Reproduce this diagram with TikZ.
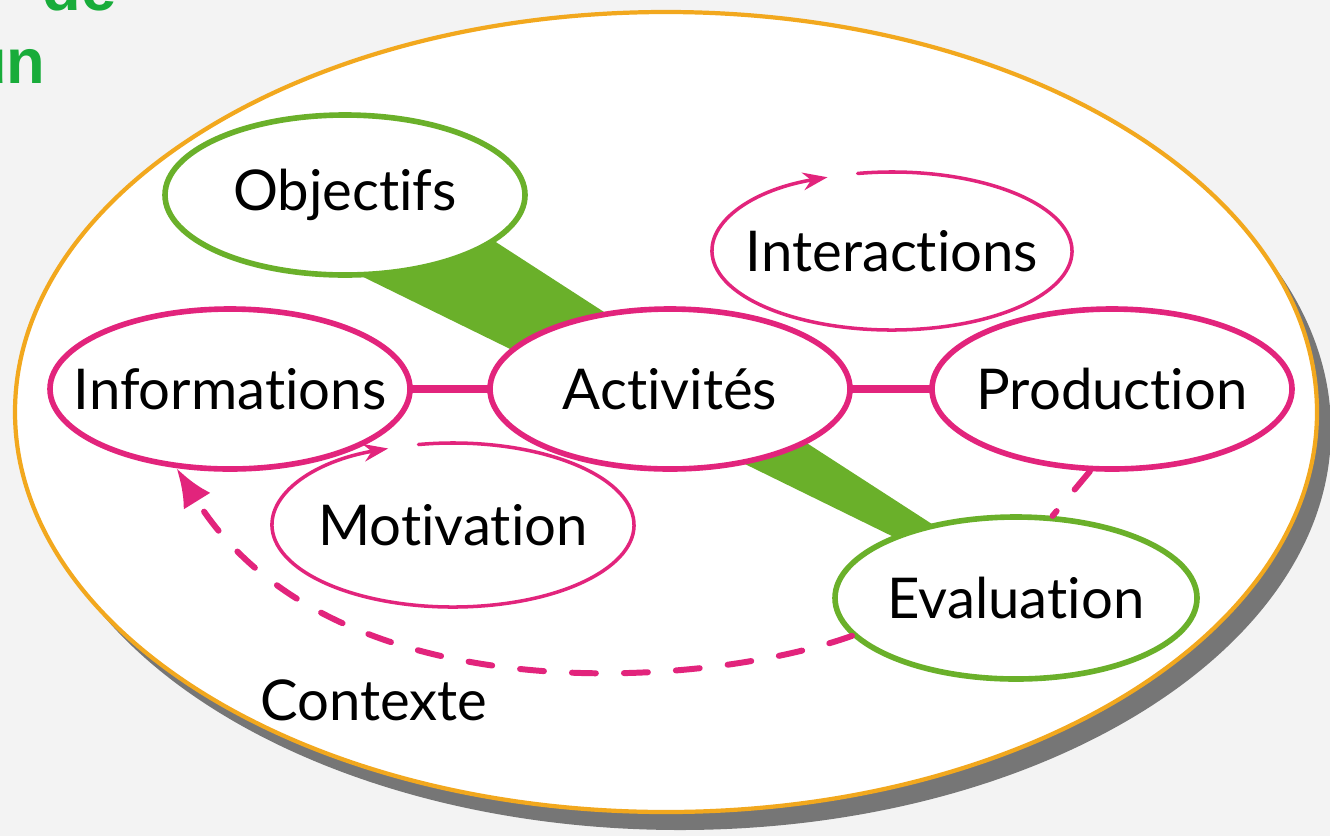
\documentclass[tikz,border=0pt]{standalone}
\usepackage{fontspec}
\setmainfont{Lato}[Ligatures=NoCommon]
\newfontfamily\titrefont{Liberation Sans}
\usetikzlibrary{shapes.geometric,arrows.meta}
\definecolor{rose}{RGB}{226,36,124}
\definecolor{vert}{RGB}{106,176,42}
\definecolor{orangec}{RGB}{242,168,30}
\definecolor{ombre}{RGB}{118,118,118}
\definecolor{fond}{RGB}{243,243,243}
\definecolor{titre}{RGB}{24,172,58}
\newcommand\mot[1]{\makebox[0pt]{#1}}
\begin{document}
\begin{tikzpicture}[x=0.1mm,y=-0.1mm,line join=round,line cap=round,
	font=\fontsize{16}{19}\selectfont,
	bulle/.style={ellipse,fill=white,inner sep=0pt,minimum width=36mm,minimum height=16mm},
	bordrose/.style={draw=rose,line width=1.6pt},
	bordvert/.style={draw=vert,line width=1.6pt},
	fin/.style={rose,line width=1pt},
	lien/.style={rose,line width=2.3pt},
	tirets/.style={rose,line width=1.7pt,dash pattern=on 6.8pt off 8pt},
	titre/.style={font=\titrefont\bfseries\fontsize{18}{22}\selectfont,text=titre,inner sep=0pt}]
	\fill[fond] (0,0) rectangle (1330,836);
	\useasboundingbox (0,0) rectangle (1330,836);
	\node[titre,anchor=base west] (de) at (42,10) {de};
	\node[titre,anchor=base east] (un) at (46,83) {un};
	% contexte
	\fill[ombre] (680,430) ellipse[x radius=651,y radius=400];
	\filldraw[fill=white,draw=orangec,line width=1.2pt] (666,412) ellipse[x radius=651,y radius=400];
	\fill[vert] (420,193) -- (1000,568) -- (1000,589) -- (300,246) -- cycle;
	% bulles
	\node[bulle,bordvert] (obj) at (345,195) {\mot{Objectifs}};
	\node[bulle,bordrose] (info) at (230,389) {\mot{Informations}};
	\node[bulle,bordrose] (act) at (670,389) {\mot{Activités}};
	\node[bulle,bordrose] (prod) at (1112,389) {\mot{Production}};
	\node[bulle,bordvert,minimum width=36.2mm,minimum height=16.2mm] (eval) at (1016,598) {\mot{Evaluation}};
	\node[bulle,minimum height=15.8mm] (inter) at (892,251) {\mot{Interactions}};
	\node[bulle,minimum width=36.2mm,minimum height=16.4mm] (motiv) at (453,525) {\mot{Motivation}};
	\draw[fin,-{Stealth[length=7pt,width=5pt]}] (inter.center) ++(-101:180 and 79)
		arc[start angle=-101,end angle=249,x radius=180,y radius=79];
	\draw[fin,-{Stealth[length=7pt,width=5pt]}] (motiv.center) ++(-101:181 and 82)
		arc[start angle=-101,end angle=249,x radius=181,y radius=82];
	\draw[lien] (info) -- (act);
	\draw[lien] (act) -- (prod);
	\draw[tirets,-{Latex[length=11pt,width=9pt]}] (eval.193) .. controls (700,690) and (330,715) .. (info.236);
	\draw[tirets] (prod.255) -- (eval.66);
	\node (ctx) at (374,700) {Contexte};
\end{tikzpicture}
\end{document}
